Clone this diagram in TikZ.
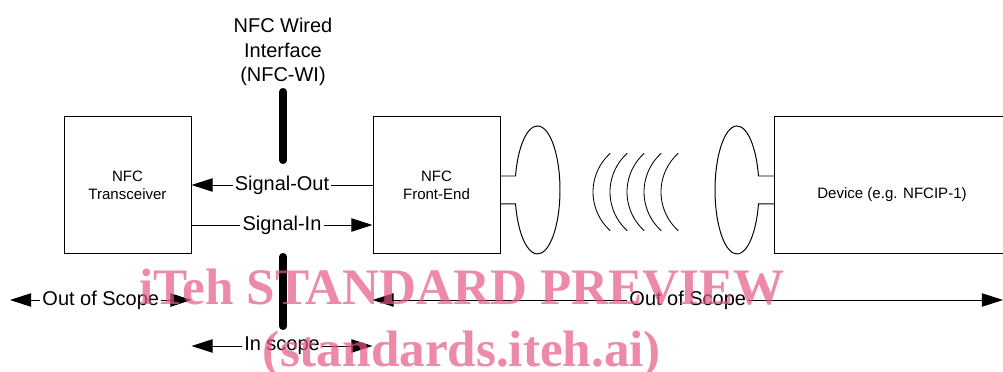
\documentclass[tikz,border=0pt]{standalone}
\usepackage{fontspec}
\setmainfont{Liberation Sans}
\newfontfamily\wmfont{Liberation Serif}
\usetikzlibrary{positioning, arrows.meta}
\definecolor{wmpink}{RGB}{228,89,131}

\begin{document}
\begin{tikzpicture}[every node/.style={font=\fontsize{14.2}{17.4}\selectfont},
  blk/.style={draw, line width=0.7pt, minimum width=3.175cm, minimum height=3.425cm, align=center, font=\fontsize{10.7}{13}\selectfont},
  wire/.style={line width=0.7pt, -{Triangle[length=15pt,width=9.5pt]}},
  span/.style={line width=0.7pt, {Triangle[length=15pt,width=9.5pt]}-{Triangle[length=15pt,width=9.5pt]}},
  lbl/.style={fill=white, inner sep=1.5pt},
  bar/.style={line width=5pt, line cap=round},
  wm/.style={wmpink, opacity=0.7, font=\wmfont\bfseries\fontsize{36.4}{40}\selectfont, anchor=base}]
 \useasboundingbox (0,0) rectangle (25.075,9.3);
 % blocks
 \node[blk] (tr) at (3.1875,4.675) {NFC\\Transceiver};
 \node[blk] (fe) at (10.9125,4.675) {NFC\\Front-End};
 \node[blk, minimum width=6cm, anchor=west] (dev) at (19.35,4.675) {};
 \node[font=\fontsize{10.7}{13}\selectfont] (devtxt) at (22.3,4.425) {Device (e.g. NFCIP-1)};
 % antennas
 \draw[line width=0.7pt] (fe.east |- 0,4.9) -- ++(0.376,0) arc[start angle=167.4, end angle=-167.4, x radius=0.5625, y radius=1.6] -- (fe.east |- 0,4.2);
 \draw[line width=0.7pt] (dev.west |- 0,4.9) -- ++(-0.388,0) arc[start angle=12.6, end angle=347.4, x radius=0.55, y radius=1.6] -- (dev.west |- 0,4.2);
 \foreach \x in {14.825,15.25,15.675,16.1,16.525}
  \draw[line width=0.6pt] (\x+1.3,4.5) ++(132:1.3) arc[start angle=132, end angle=228, radius=1.3];
 % wired interface
 \node[align=center] (wi) at (7.075,8.0) {NFC Wired\\Interface\\(NFC-WI)};
 \draw[bar] (7.075,7.0125) -- (7.075,5.2875);
 \draw[bar] (7.075,2.8875) -- (7.075,1.1375);
 \draw[wire] (fe.west) -- node[lbl] {Signal-Out} (tr.east);
 \draw[wire] ([yshift=-1cm]tr.east) -- node[lbl] {Signal-In} ([yshift=-1cm]fe.west);
 % scope
 \coordinate (ol) at (0.25,1.8);
 \coordinate (or) at (25.075,1.8);
 \coordinate (is) at (0,0.65);
 \draw[span] (ol) -- node[lbl] {Out of Scope} (ol -| tr.east);
 \draw[span] (fe.west |- or) -- node[lbl] {Out of Scope} (or);
 \draw[span] (is -| tr.east) -- node[lbl] {In scope} (is -| fe.west);
 % watermark
 \node[wm] (wm1) at (11.55,1.675) {iTeh STANDARD PREVIEW};
 \node[wm] (wm2) at (11.55,0.125) {(standards.iteh.ai)};
\end{tikzpicture}
\end{document}
